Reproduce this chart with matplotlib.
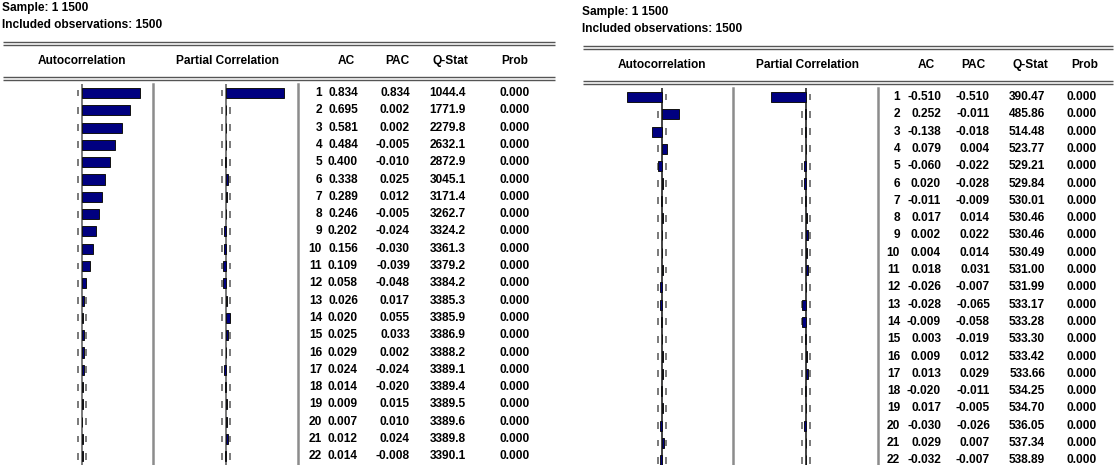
import numpy as np
import matplotlib
matplotlib.use("Agg")
import matplotlib.pyplot as plt
from matplotlib import transforms
from matplotlib import font_manager

# ---- correlogram data -------------------------------------------------------
lags = list(range(1, 23))
n_obs = 1500

ac_levels = [0.834, 0.695, 0.581, 0.484, 0.400, 0.338, 0.289, 0.246, 0.202, 0.156, 0.109,
             0.058, 0.026, 0.020, 0.025, 0.029, 0.024, 0.014, 0.009, 0.007, 0.012, 0.014]
pac_levels = [0.834, 0.002, 0.002, -0.005, -0.010, 0.025, 0.012, -0.005, -0.024, -0.030, -0.039,
              -0.048, 0.017, 0.055, 0.033, 0.002, -0.024, -0.020, 0.015, 0.010, 0.024, -0.008]
q_levels = [1044.4, 1771.9, 2279.8, 2632.1, 2872.9, 3045.1, 3171.4, 3262.7, 3324.2, 3361.3, 3379.2,
            3384.2, 3385.3, 3385.9, 3386.9, 3388.2, 3389.1, 3389.4, 3389.5, 3389.6, 3389.8, 3390.1]
prob_levels = [0.000] * 22

ac_diff = [-0.510, 0.252, -0.138, 0.079, -0.060, 0.020, -0.011, 0.017, 0.002, 0.004, 0.018,
           -0.026, -0.028, -0.009, 0.003, 0.009, 0.013, -0.020, 0.017, -0.030, 0.029, -0.032]
pac_diff = [-0.510, -0.011, -0.018, 0.004, -0.022, -0.028, -0.009, 0.014, 0.022, 0.014, 0.031,
            -0.007, -0.065, -0.058, -0.019, 0.012, 0.029, -0.011, -0.005, -0.026, 0.007, -0.007]
q_diff = [390.47, 485.86, 514.48, 523.77, 529.21, 529.84, 530.01, 530.46, 530.46, 530.49, 531.00,
          531.99, 533.17, 533.28, 533.30, 533.42, 533.66, 534.25, 534.70, 536.05, 537.34, 538.89]
prob_diff = [0.000] * 22

header_cols = ["AC", "PAC", "Q-Stat", "Prob"]

# ---- figure -----------------------------------------------------------------
W, H = 1115, 465
fig = plt.figure(figsize=(W / 100, H / 100), dpi=100)
fig.patch.set_facecolor("white")

installed = {f.name for f in font_manager.fontManager.ttflist}
if "Liberation Sans Narrow" in installed:
    FONT = ["Liberation Sans Narrow", "DejaVu Sans"]
    FS = 10.0
else:
    FONT = ["Liberation Sans", "DejaVu Sans"]
    FS = 8.6

# overlay axes in pixel coordinates for rules and text
ov = fig.add_axes([0, 0, 1, 1])
ov.set_xlim(0, W)
ov.set_ylim(H, 0)
ov.axis("off")
ov.set_zorder(3)


def px_axes(x0, y0, w, h):
    return fig.add_axes([x0 / W, 1 - (y0 + h) / H, w / W, h / H])


def draw_panel(ox, oy, ac, pac, q, prob, qfmt, col_right, head_right, rule_end,
               zero_color):
    row1 = 93 + oy
    step = 17.3
    half = 69.0  # pixels per unit correlation
    conf = 2 / np.sqrt(n_obs)

    # sample info
    ov.text(ox + 2, oy + 8, "Sample: 1 1500", fontsize=FS, fontweight="bold",
            family=FONT, ha="left", va="center")
    ov.text(ox + 2, oy + 25, "Included observations: 1500", fontsize=FS,
            fontweight="bold", family=FONT, ha="left", va="center")

    # double rules
    for y in (oy + 42, oy + 45, oy + 77, oy + 80):
        ov.plot([ox + 3, ox + rule_end], [y, y], color="#555555", lw=1.0,
                solid_capstyle="butt")

    zero_ac = ox + 82
    zero_pac = ox + 226
    hy = oy + 61
    ov.text(zero_ac, hy, "Autocorrelation", fontsize=FS, fontweight="bold",
            family=FONT, ha="center", va="center")
    ov.text(zero_pac + 1, hy, "Partial Correlation", fontsize=FS, fontweight="bold",
            family=FONT, ha="center", va="center")

    for name, xr in zip(header_cols, head_right):
        ov.text(ox + xr, hy, name, fontsize=FS, fontweight="bold", family=FONT,
                ha="right", va="center")

    # bar panels
    top = row1 - step / 2
    axes = []
    for zero, vals in ((zero_ac, ac), (zero_pac, pac)):
        ax = px_axes(zero - half, top, 2 * half, 22 * step)
        ax.set_xlim(-1, 1)
        ax.set_ylim(22.5, 0.5)
        ax.axis("off")
        ax.axvline(0, color=zero_color, lw=1.1, zorder=1)
        ax.barh(lags, vals, height=0.58, color="#000080", edgecolor="#111111",
                linewidth=0.7, zorder=2)
        for c in (-conf, conf):
            ax.vlines([c] * len(lags), np.array(lags) - 0.2, np.array(lags) + 0.2,
                      color="#7a7a7a", lw=1.4, zorder=1)
        axes.append(ax)

    # column separators
    for x in (ox + 153, ox + 298):
        ov.plot([x, x], [top, H], color="#8c8c8c", lw=1.8)

    # table values, rows placed on the bar axes' lag scale
    tr = transforms.blended_transform_factory(ov.transData, axes[0].transData)
    for i, lag in enumerate(lags):
        cells = [f"{lag}", f"{ac[i]:.3f}", f"{pac[i]:.3f}", qfmt.format(q[i]),
                 f"{prob[i]:.3f}"]
        for s, xr in zip(cells, col_right):
            ov.text(ox + xr, lag, s, transform=tr, fontsize=FS, fontweight="bold",
                    family=FONT, ha="right", va="center")


draw_panel(0, 0, ac_levels, pac_levels, q_levels, prob_levels, "{:.1f}",
           col_right=[322, 358, 410, 466, 530], head_right=[355, 410, 468, 528],
           rule_end=555, zero_color="#555555")
draw_panel(580, 4, ac_diff, pac_diff, q_diff, prob_diff, "{:.2f}",
           col_right=[320, 361, 410, 465, 517], head_right=[355, 406, 468, 518],
           rule_end=533, zero_color="#111111")

fig.savefig("out.png", dpi=100, facecolor="white")
